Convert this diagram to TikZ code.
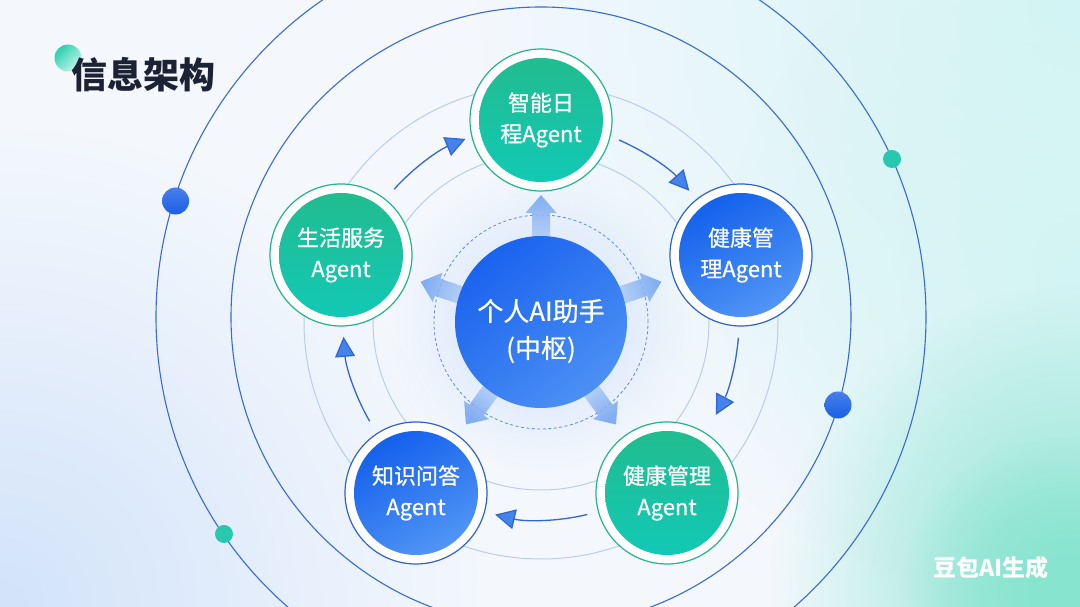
\documentclass[tikz,border=0pt]{standalone}
\usepackage{fontspec}
\setmainfont{Noto Sans CJK SC}
\newfontfamily\medfont{Noto Sans CJK SC}[FakeBold=0.6]
\usetikzlibrary{arrows.meta,calc,fadings}
\definecolor{bgbase}{HTML}{F4F8FD}
\definecolor{glowcyan}{HTML}{D3F4F4}
\definecolor{glowteal}{HTML}{86E4CF}
\definecolor{glowblue}{HTML}{D2E3FA}
\definecolor{orbitdark}{HTML}{3A6BD5}
\definecolor{orbitlight}{HTML}{BACDEC}
\definecolor{dashc}{HTML}{5F8BDB}
\definecolor{haloc}{HTML}{CFE0FA}
\definecolor{tealA}{HTML}{21BC90}
\definecolor{tealB}{HTML}{12C9B5}
\definecolor{blueA}{HTML}{1461EC}
\definecolor{blueB}{HTML}{5195F5}
\definecolor{ringteal}{HTML}{22B48D}
\definecolor{ringblue}{HTML}{2E62D4}
\definecolor{hubA}{HTML}{1A63EE}
\definecolor{hubB}{HTML}{4C90F4}
\definecolor{arrowlight}{HTML}{C2D8F8}
\definecolor{arrowdark}{HTML}{6FA2F0}
\definecolor{flowline}{HTML}{3366D4}
\definecolor{flowhead}{HTML}{4482EC}
\definecolor{titlec}{HTML}{1B2234}
\definecolor{titledot}{HTML}{2BD0B0}
\definecolor{dotblue}{HTML}{1A5FE6}
\definecolor{dotteal}{HTML}{28C8AE}
\tikzfading[name=glow, inner color=transparent!0, outer color=transparent!100]
\begin{document}
\begin{tikzpicture}[x=1pt,y=1pt,
  darkorbit/.style={draw=orbitdark, line width=1.1pt},
  lightorbit/.style={draw=orbitlight, line width=1pt},
  ringT/.style={draw=ringteal, line width=1.2pt, fill=white},
  ringB/.style={draw=ringblue, line width=1.2pt, fill=white},
  agentT/.style={circle, minimum size=124pt, inner sep=0pt, text=white, align=center,
    font=\medfont\fontsize{22}{31}\selectfont, top color=tealA, bottom color=tealB},
  agentB/.style={circle, minimum size=124pt, inner sep=0pt, text=white, align=center,
    font=\medfont\fontsize{22}{31}\selectfont, top color=blueA, bottom color=blueB, shading angle=30},
  hubarrow/.style={fill opacity=0.85, top color=arrowdark, bottom color=arrowlight},
  flowarrow/.style={draw=flowline, line width=1.3pt,
    -{Triangle[length=20pt,width=20pt,fill=flowhead]}},
]
\useasboundingbox (0,0) rectangle (1080,607);
\clip (0,0) rectangle (1080,607);
% background
\fill[bgbase] (0,0) rectangle (1080,607);
\fill[glowblue, path fading=glow] (0,0) circle (480);
\fill[glowcyan, path fading=glow] (1080,607) circle (600);
\fill[glowcyan, path fading=glow] (1080,330) circle (360);
\fill[glowteal, path fading=glow] (1070,20) circle (300);
\fill[glowteal, path fading=glow] (1060,10) circle (160);

\coordinate (O) at (541,290);
\coordinate (C) at (541,285);
% orbits
\draw[darkorbit] (O) circle (385);
\draw[darkorbit] (O) circle (310);
\draw[lightorbit] (C) circle (237);
\draw[lightorbit] (C) circle (168);
% dots
\shade[top color=dotblue!80, bottom color=dotblue] (175.6,406) circle (13.5);
\shade[top color=dotblue!80, bottom color=dotblue] (838,202) circle (13.5);
\fill[dotteal] (892,448) circle (9);
\fill[dotteal] (224,73) circle (9);
% halo and dashed circle
\fill[haloc, path fading=glow] (C) circle (150);
\draw[dashc, line width=0.8pt, dash pattern=on 3pt off 2.5pt] (C) circle (107);
% hub arrows
\foreach \a/\s in {90/0, 161.5/71.5, 18.5/-71.5, -126.2/143.8, -53.8/-143.8}{
  \path[hubarrow, shading angle=\s]
  ($(C)+(\a:70)+(\a+90:9)$) -- ($(C)+(\a:109)+(\a+90:9)$) -- ($(C)+(\a:109)+(\a+90:15.5)$) -- ($(C)+(\a:127)$) -- ($(C)+(\a:109)+(\a-90:15.5)$) -- ($(C)+(\a:109)+(\a-90:9)$) -- ($(C)+(\a:70)+(\a-90:9)$) -- cycle;
}
% hub
\node[circle, minimum size=172pt, inner sep=0pt, top color=hubA, bottom color=hubB, shading angle=40] (hub) at (C) {};
\node[text=white, align=center, font=\medfont\fontsize{26}{37}\selectfont] (hubtext) at ($(C)+(0,-9)$) {个人AI助手\\(中枢)};
% flow arrows
\coordinate (f1) at ($(C)+(66.8:198)$);
\coordinate (f2) at ($(C)+(-4.6:198)$);
\coordinate (f3) at ($(C)+(-76.5:198)$);
\coordinate (f4) at ($(C)+(-149.9:198)$);
\coordinate (f5) at ($(C)+(137.9:198)$);
\draw[flowarrow] (f1) arc[start angle=66.8, end angle=41.5, radius=198];
\draw[flowarrow] (f2) arc[start angle=-4.6, end angle=-28, radius=198];
\draw[flowarrow] (f3) arc[start angle=-76.5, end angle=-103.4, radius=198];
\draw[flowarrow] (f4) arc[start angle=-149.9, end angle=-175.7, radius=198];
\draw[flowarrow] (f5) arc[start angle=137.9, end angle=112.4, radius=198];
% agents
\coordinate (pT) at (541,487);
\coordinate (pR) at (741,352);
\coordinate (pBR) at (667,114);
\coordinate (pBL) at (416,114);
\coordinate (pL) at (341,352);
\draw[ringT] (pT) circle (71);
\draw[ringB] (pR) circle (71);
\draw[ringT] (pBR) circle (71);
\draw[ringB] (pBL) circle (71);
\draw[ringT] (pL) circle (71);
\node[agentT] (aT) at (pT) {智能日\\程Agent};
\node[agentB] (aR) at (pR) {健康管\\理Agent};
\node[agentT] (aBR) at (pBR) {健康管理\\Agent};
\node[agentB] (aBL) at (pBL) {知识问答\\Agent};
\node[agentT] (aL) at (pL) {生活服务\\Agent};
% title
\shade[top color=titledot, bottom color=titledot!25, shading angle=45] (68,549) circle (13.5);
\node[text=titlec, font=\fontsize{36}{40}\selectfont\bfseries] (title) at (143,532) {信息架构};
% watermark
\node[text=white, font=\fontsize{23}{26}\selectfont\bfseries] (wm) at (991,39) {豆包AI生成};
\end{tikzpicture}
\end{document}
